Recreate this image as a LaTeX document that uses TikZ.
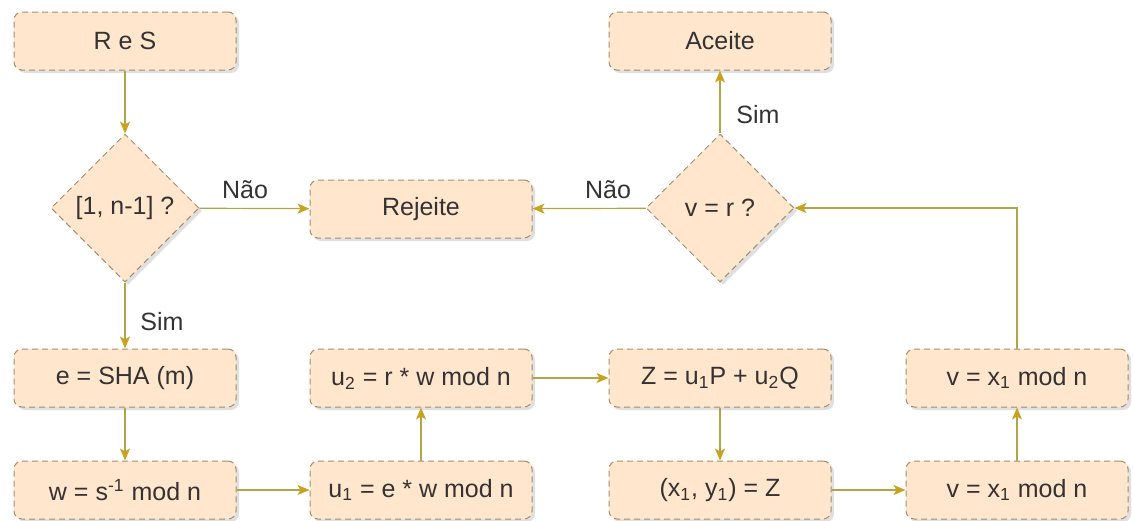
\documentclass[tikz,border=0pt]{standalone}
\usepackage{fontspec}
\setmainfont{Liberation Sans}
\usetikzlibrary{shapes.geometric,arrows.meta,shadows}
\definecolor{boxfill}{HTML}{FFE6CC}
\definecolor{boxline}{HTML}{A38D6B}
\definecolor{flowline}{HTML}{B3A545}
\definecolor{tipfill}{HTML}{C9A21F}
\definecolor{txt}{HTML}{333333}

\begin{document}
\begin{tikzpicture}[x=0.5pt,y=-0.5pt,
    font=\fontsize{12.5}{15}\selectfont, text=txt,
    box/.style={draw=boxline, fill=boxfill, dash pattern=on 3pt off 2pt,
        line width=0.5pt, rounded corners=4pt, minimum width=111pt,
        minimum height=29pt,
        drop shadow={shadow xshift=1.5pt, shadow yshift=-1.5pt, opacity=0.2, fill=black!60}},
    test/.style={box, diamond, rounded corners=0pt, inner sep=0pt,
        minimum width=74pt, minimum height=74pt},
    flow/.style={draw=flowline, line width=0.6pt,
        -{Stealth[length=6pt,width=5pt,inset=1.5pt,color=tipfill]}}]
\useasboundingbox (0,0) rectangle (1133,520);
\node[box] (nodeRS) at (125, 41){R e S};
\node[test] (nodeInt) at (125, 208){[1, n-1] ?};
\node[box] (nodeRej) at (421, 209){Rejeite};
\node[box] (nodeE) at (125, 378){e = SHA (m)};
\node[box] (nodeW) at (125, 490){w = s\textsuperscript{-1} mod n};
\node[box] (nodeUa) at (421, 490){u\textsubscript{1} = e * w mod n};
\node[box] (nodeUb) at (421, 378){u\textsubscript{2} = r * w mod n};
\node[box] (nodeZ) at (720, 378){Z = u\textsubscript{1}P + u\textsubscript{2}Q};
\node[box] (nodeXY) at (720, 490){(x\textsubscript{1}, y\textsubscript{1}) = Z};
\node[box] (nodeV) at (1017, 490){v = x\textsubscript{1} mod n};
\node[box] (nodeVv) at (1017, 378){v = x\textsubscript{1} mod n};
\node[test] (nodeTest) at (720, 208){v = r ?};
\node[box] (nodeAcc) at (720, 41){Aceite};
\node (nodeNao) at (245, 190){Não};
\node (nodeNao0) at (608, 190){Não};
\node (nodeSim) at (162, 322){Sim};
\node (nodeSim0) at (758, 115){Sim};
\draw[flow] (nodeRS) -- (nodeInt);
\draw[flow] (nodeInt) -- (nodeRej);
\draw[flow] (nodeInt) -- (nodeE);
\draw[flow] (nodeE) -- (nodeW);
\draw[flow] (nodeW) -- (nodeUa);
\draw[flow] (nodeUa) -- (nodeUb);
\draw[flow] (nodeUb) -- (nodeZ);
\draw[flow] (nodeZ) -- (nodeXY);
\draw[flow] (nodeXY) -- (nodeV);
\draw[flow] (nodeV) -- (nodeVv);
\draw[flow] (nodeVv.north) |- (nodeTest.east);
\draw[flow] (nodeTest) -- (nodeRej);
\draw[flow] (nodeTest) -- (nodeAcc);
\end{tikzpicture}
\end{document}
